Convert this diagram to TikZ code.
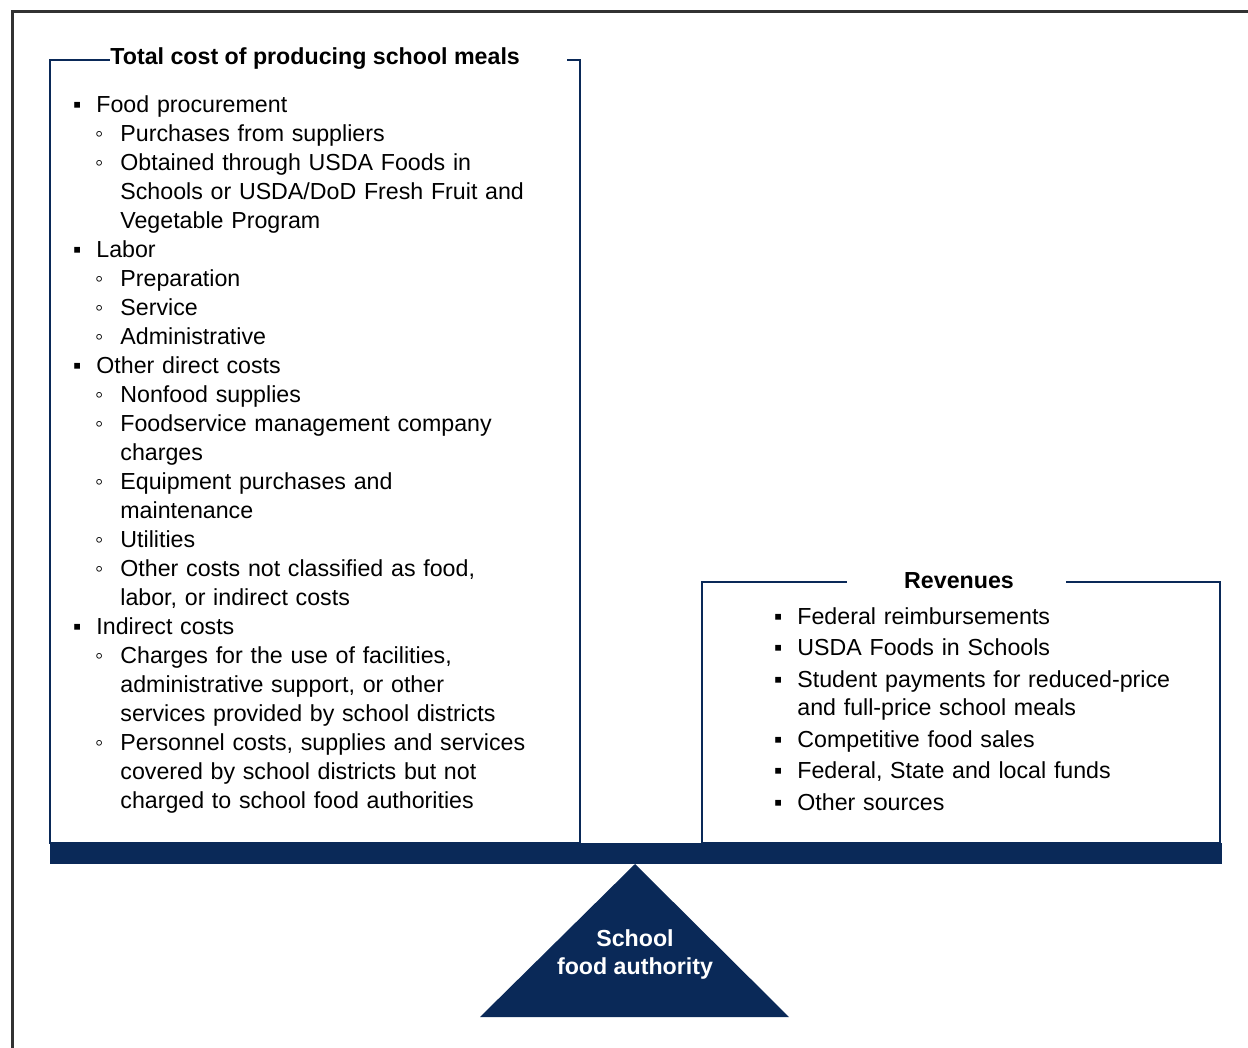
\documentclass[tikz,border=0pt]{standalone}
\usepackage{fontspec}
\setmainfont{Liberation Sans}
\usepackage{enumitem}
\usepackage{xcolor}
\definecolor{sfanavy}{RGB}{10,41,88}
\definecolor{framegray}{RGB}{50,50,50}

\setlist[itemize,1]{label=▪, leftmargin=18pt, labelsep=7.5pt, nosep}
\setlist[itemize,2]{label=◦, leftmargin=12pt, labelsep=8.5pt, nosep}

\tikzset{
  boxline/.style={draw=sfanavy, line width=0.7pt},
  listtext/.style={anchor=base west, inner sep=0pt, text width=290pt,
                   font=\fontsize{11.6}{14.5}\selectfont},
  heading/.style={inner sep=0pt, font=\bfseries\fontsize{11.6}{14}\selectfont}
}

\begin{document}
\begin{tikzpicture}[x=0.5pt, y=-0.5pt]
  \useasboundingbox (0,0) rectangle (1248,1048);
  \draw[framegray, line width=1.5pt] (1248,12) -- (12,12) -- (12,1048);

  % cost side
  \draw[boxline] (567,60) -- (580,60) -- (580,843) -- (50,843) -- (50,60) -- (110,60);
  \node[heading, anchor=base west] (costtitle) at (110,65)
    {Total cost of producing school meals};
  \node[listtext] (costlist) at (60,84) {%
    \begin{itemize}
      \item Food procurement
      \begin{itemize}
        \item Purchases from suppliers
        \item Obtained through USDA Foods in\newline
              Schools or USDA/DoD Fresh Fruit and\newline
              Vegetable Program
      \end{itemize}
      \item Labor
      \begin{itemize}
        \item Preparation
        \item Service
        \item Administrative
      \end{itemize}
      \item Other direct costs
      \begin{itemize}
        \item Nonfood supplies
        \item Foodservice management company\newline charges
        \item Equipment purchases and\newline maintenance
        \item Utilities
        \item Other costs not classified as food,\newline
              labor, or indirect costs
      \end{itemize}
      \item Indirect costs
      \begin{itemize}
        \item Charges for the use of facilities,\newline
              administrative support, or other\newline
              services provided by school districts
        \item Personnel costs, supplies and services\newline
              covered by school districts but not\newline
              charged to school food authorities
      \end{itemize}
    \end{itemize}};

  % revenue side
  \draw[boxline] (1066,582) -- (1220,582) -- (1220,843) -- (702,843) -- (702,582) -- (847,582);
  \node[heading, anchor=base] (revtitle) at (959,588) {Revenues};
  \node[listtext, font=\fontsize{11.6}{14.25}\selectfont] (revlist) at (761,596) {%
    \begin{itemize}[itemsep=1.45pt]
      \item Federal reimbursements
      \item USDA Foods in Schools
      \item Student payments for reduced-price\newline
            and full-price school meals
      \item Competitive food sales
      \item Federal, State and local funds
      \item Other sources
    \end{itemize}};

  % beam and fulcrum
  \fill[sfanavy] (50,843) rectangle (1222,864);
  \fill[sfanavy] (635,864) -- (789,1017) -- (480,1017) -- cycle;
  \node[heading, text=white, align=center] (sfa) at (635,954)
    {School\\food authority};
\end{tikzpicture}
\end{document}
